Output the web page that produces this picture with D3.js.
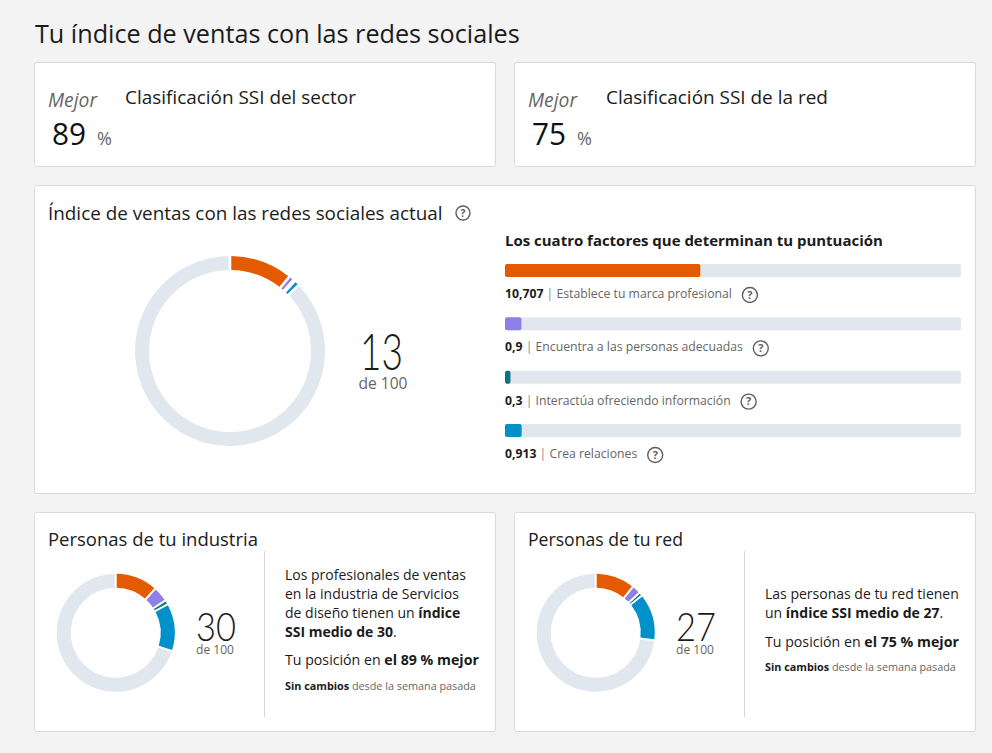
<!DOCTYPE html>
<html><head><meta charset="utf-8">
<script src="https://cdn.jsdelivr.net/npm/d3@7"></script>
<style>
body{margin:0;background:#f3f3f3;}
svg{display:block;font-family:'Open Sans','Noto Sans',sans-serif;}
</style>
</head><body>
<svg id="c" width="992" height="753"></svg>
<script>
// ---------- data ----------
const factorNames = ["Establece tu marca profesional","Encuentra a las personas adecuadas","Interactúa ofreciendo información","Crea relaciones"];
const factorLabels = ["10,707","0,9","0,3","0,913"];
const myScores = [10.707, 0.9, 0.3, 0.913];
const industryScores = [11.6, 4.2, 1.2, 13.0];
const networkScores = [10.8, 2.4, 1.0, 12.8];
const factorColors = ["#e35a00","#8f80e8","#0e7480","#0091ca"];
const ssiTotals = {mine: 13, industry: 30, network: 27};
const rankings = {sector: 89, network: 75};
const maxTotal = 100, maxFactor = 25;

const trackColor = "#e0e7ee", dark = "#1b1b1b", gray = "#666666";
const svg = d3.select("#c");

svg.append("rect").attr("width",992).attr("height",753).attr("fill","#f3f3f3");

function fit(t, w){
  const L = t.node().getComputedTextLength();
  const fs = parseFloat(t.attr("font-size"));
  t.attr("font-size", (fs*w/L).toFixed(2));
  return +(fs*w/L).toFixed(2);
}
function squeeze(t, w){
  t.attr("textLength", w).attr("lengthAdjust","spacingAndGlyphs");
  return t;
}
function card(x,y,w,h){
  svg.append("rect").attr("x",x+0.5).attr("y",y+0.5).attr("width",w).attr("height",h)
    .attr("rx",2).attr("fill","#fff").attr("stroke","#d9d9d9");
}
function txt(x,y,s,size,fill,opts={}){
  const t = svg.append("text").attr("x",x).attr("y",y).attr("font-size",size).attr("fill",fill).text(s);
  if(opts.weight) t.attr("font-weight",opts.weight);
  if(opts.italic) t.attr("font-style","italic");
  if(opts.anchor) t.attr("text-anchor",opts.anchor);
  if(opts.family) t.attr("font-family",opts.family);
  return t;
}
function rich(x,y,parts,size){
  const t = svg.append("text").attr("x",x).attr("y",y).attr("font-size",size).attr("fill",dark);
  parts.forEach(p=>{
    const ts = t.append("tspan").text(p[0]);
    if(p[1]) ts.attr("font-weight",700);
    if(p[2]) ts.attr("fill",p[2]);
  });
  return t;
}
function qIcon(cx,cy,r){
  svg.append("circle").attr("cx",cx).attr("cy",cy).attr("r",r).attr("fill","none").attr("stroke","#5e5e5e").attr("stroke-width",1.4);
  svg.append("text").attr("x",cx).attr("y",cy+r*0.5).attr("text-anchor","middle").attr("font-size",r*1.45)
    .attr("font-weight",700).attr("fill","#5e5e5e").text("?");
}
function donut(cx,cy,rO,rI,scores,gap){
  const data = scores.map((v,i)=>({v, c: factorColors[i]})).concat([{v: maxTotal - d3.sum(scores), c: trackColor}]);
  const pie = d3.pie().sort(null).value(d=>d.v);
  const arc = d3.arc().innerRadius(rI).outerRadius(rO).padRadius(rO).padAngle(gap/rO);
  svg.append("g").attr("transform",`translate(${cx},${cy})`)
    .selectAll("path").data(pie(data)).join("path").attr("d",arc).attr("fill",d=>d.data.c);
}
const lightFam = "'Lato','Open Sans',sans-serif";

// ---------- title ----------
fit(txt(35,43,"Tu índice de ventas con las redes sociales",24,dark), 485);

// ---------- top cards ----------
card(34,62,461,104);
card(514,62,461,104);
[[0, rankings.sector, "Clasificación SSI del sector", 231],[480, rankings.network, "Clasificación SSI de la red", 222]].forEach(([dx,val,label,lw])=>{
  fit(txt(48+dx,107,"Mejor",18,gray,{italic:true}),49);
  squeeze(txt(52+dx,145,String(val),31,"#111"),34);
  txt(52+dx+34+11,145,"%",18,gray);
  fit(txt(125+dx+(dx?1:0),104,label,18,dark),lw);
});

// ---------- main card ----------
card(34,185,941,308);
fit(txt(48,220,"Índice de ventas con las redes sociales actual",18,dark),395);
qIcon(463,213,7);
donut(230,351,95,81,myScores,2.6);
squeeze(txt(360,370,String(ssiTotals.mine),51,dark,{weight:300,family:lightFam}),43);
fit(txt(383,389,"de 100",15,gray,{anchor:"middle"}),49);

fit(txt(505,246,"Los cuatro factores que determinan tu puntuación",16,dark,{weight:700}),378);

const xBar = d3.scaleLinear().domain([0,maxFactor]).range([0,456]);
const yBar = d3.scalePoint().domain(factorNames).range([264,424]);
let labelSize = null;
factorNames.forEach((name,i)=>{
  const y = yBar(name);
  svg.append("rect").attr("x",505).attr("y",y).attr("width",xBar(maxFactor)).attr("height",13).attr("rx",2).attr("fill",trackColor);
  svg.append("rect").attr("x",505).attr("y",y).attr("width",xBar(myScores[i])).attr("height",13).attr("rx",2).attr("fill",factorColors[i]);
  const t = rich(505,y+34,[[factorLabels[i],1],[" | ",0,"#8a8a8a"],[name,0,gray]],12.5);
  if(labelSize===null) labelSize = fit(t,227); else t.attr("font-size",labelSize);
  const w = t.node().getComputedTextLength();
  qIcon(505+w+18,y+31,7.5);
});

// ---------- bottom cards ----------
card(34,512,461,219);
card(514,512,461,219);
fit(txt(48,546,"Personas de tu industria",20,dark),210);
fit(txt(528,546,"Personas de tu red",20,dark),155);
svg.append("line").attr("x1",264.5).attr("x2",264.5).attr("y1",551).attr("y2",717).attr("stroke","#d6d6d6");
svg.append("line").attr("x1",744.5).attr("x2",744.5).attr("y1",551).attr("y2",717).attr("stroke","#d6d6d6");

donut(115.7,632.8,59,45,industryScores,2);
donut(595.7,632.8,59,45,networkScores,2);
squeeze(txt(196,641,String(ssiTotals.industry),39,dark,{weight:300,family:lightFam}),40);
fit(txt(215,654,"de 100",12,gray,{anchor:"middle"}),38);
squeeze(txt(676,641,String(ssiTotals.network),39,dark,{weight:300,family:lightFam}),40);
fit(txt(695,654,"de 100",12,gray,{anchor:"middle"}),38);

const industryLines = [
  [["Los profesionales de ventas",0]],
  [["en la industria de Servicios",0]],
  [["de diseño tienen un ",0],["índice",1]],
  [[`SSI medio de ${ssiTotals.industry}`,1],[".",0]]
];
let bs=null;
industryLines.forEach((ln,i)=>{
  const t = rich(285,580+i*19,ln,14.5);
  if(bs===null) bs = fit(t,181); else t.attr("font-size",bs);
});
fit(rich(285,665,[["Tu posición en ",0],[`el ${rankings.sector} % mejor`,1]],14.5),194);
fit(rich(285,690,[["Sin cambios",1],[" desde la semana pasada",0,gray]],11),191);

const networkLines = [
  [["Las personas de tu red tienen",0]],
  [["un ",0],[`índice SSI medio de ${ssiTotals.network}`,1],[".",0]]
];
networkLines.forEach((ln,i)=>{
  const t = rich(765,599+i*19,ln,14.5);
  t.attr("font-size",bs);
});
fit(rich(765,647,[["Tu posición en ",0],[`el ${rankings.network} % mejor`,1]],14.5),194);
fit(rich(765,671,[["Sin cambios",1],[" desde la semana pasada",0,gray]],11),191);
</script>
</body></html>
